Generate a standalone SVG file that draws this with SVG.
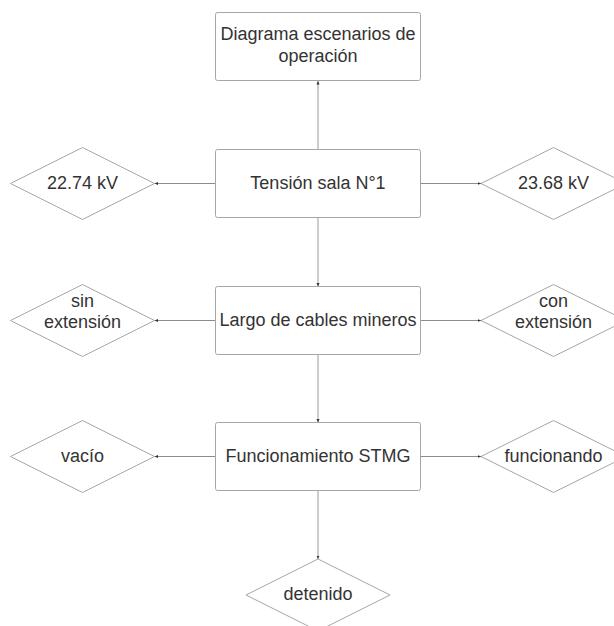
<svg xmlns="http://www.w3.org/2000/svg" width="614" height="626" viewBox="0 0 614 626">
  <style>
    .box { fill: #ffffff; stroke: #a6a6a6; stroke-width: 1; }
    .dia { fill: #ffffff; stroke: #a6a6a6; stroke-width: 1; }
    .lbl { font-family: "Liberation Sans", Arial, sans-serif; font-size: 18px; fill: #333333; text-anchor: middle; }
    .conn { fill: none; stroke: #8c8c8c; stroke-width: 1; }
    .vconn { fill: none; stroke: #9a9a9a; stroke-width: 1; }
  </style>
  <defs>
    <marker id="tip" markerUnits="userSpaceOnUse" markerWidth="4" markerHeight="4" refX="3.5" refY="2" orient="auto">
      <path d="M0,0.5 L3.5,2 L0,3.5 z" fill="#333333"/>
    </marker>
  </defs>
  <rect width="614" height="626" fill="#ffffff"/>

  <!-- connectors -->
  <g id="connectors">
    <line class="vconn" x1="318" y1="149.5" x2="318" y2="81" marker-end="url(#tip)"/>
    <line class="conn" x1="215.5" y1="183.5" x2="154.5" y2="183.5" marker-end="url(#tip)"/>
    <line class="conn" x1="420.5" y1="183.5" x2="481" y2="183.5" marker-end="url(#tip)"/>
    <line class="vconn" x1="318" y1="217.5" x2="318" y2="286.5" marker-end="url(#tip)"/>
    <line class="conn" x1="215.5" y1="320.5" x2="154.5" y2="320.5" marker-end="url(#tip)"/>
    <line class="conn" x1="420.5" y1="320.5" x2="481" y2="320.5" marker-end="url(#tip)"/>
    <line class="vconn" x1="318" y1="354.5" x2="318" y2="422.5" marker-end="url(#tip)"/>
    <line class="conn" x1="215.5" y1="456.5" x2="154.5" y2="456.5" marker-end="url(#tip)"/>
    <line class="conn" x1="420.5" y1="456.5" x2="481" y2="456.5" marker-end="url(#tip)"/>
    <line class="vconn" x1="318" y1="490.5" x2="318" y2="559" marker-end="url(#tip)"/>
  </g>

  <!-- boxes -->
  <g id="diagrama">
    <rect class="box" x="215.5" y="12.5" width="205" height="68" rx="2"/>
    <text class="lbl" x="318" y="40">Diagrama escenarios de</text>
    <text class="lbl" x="318" y="61.5">operación</text>
  </g>
  <g id="tension">
    <rect class="box" x="215.5" y="149.5" width="205" height="68" rx="2"/>
    <text class="lbl" x="318" y="189">Tensión sala N°1</text>
  </g>
  <g id="largo">
    <rect class="box" x="215.5" y="286.5" width="205" height="68" rx="2"/>
    <text class="lbl" x="318" y="325.5">Largo de cables mineros</text>
  </g>
  <g id="funcionamiento">
    <rect class="box" x="215.5" y="422.5" width="205" height="68" rx="2"/>
    <text class="lbl" x="318" y="461.8">Funcionamiento STMG</text>
  </g>

  <!-- options -->
  <g id="v2274">
    <polygon class="dia" points="82.5,147.5 154.5,183.5 82.5,219.5 10.5,183.5"/>
    <text class="lbl" x="82.5" y="188.5">22.74 kV</text>
  </g>
  <g id="v2368">
    <polygon class="dia" points="553.5,147.5 626,183.5 553.5,219.5 481,183.5"/>
    <text class="lbl" x="553.5" y="188.5">23.68 kV</text>
  </g>
  <g id="sin-ext">
    <polygon class="dia" points="82.5,284.5 154.5,320.5 82.5,356.5 10.5,320.5"/>
    <text class="lbl" x="82.5" y="306.7">sin</text>
    <text class="lbl" x="82.5" y="328.3">extensión</text>
  </g>
  <g id="con-ext">
    <polygon class="dia" points="553.5,284.5 626,320.5 553.5,356.5 481,320.5"/>
    <text class="lbl" x="553.5" y="306.7">con</text>
    <text class="lbl" x="553.5" y="328.3">extensión</text>
  </g>
  <g id="vacio">
    <polygon class="dia" points="82.5,420.5 154.5,456.5 82.5,492.5 10.5,456.5"/>
    <text class="lbl" x="82.5" y="461.8">vacío</text>
  </g>
  <g id="funcionando">
    <polygon class="dia" points="553.5,420.5 626,456.5 553.5,492.5 481,456.5"/>
    <text class="lbl" x="553.5" y="461.8">funcionando</text>
  </g>
  <g id="detenido">
    <polygon class="dia" points="318,559 390,595 318,631 246,595"/>
    <text class="lbl" x="318" y="599.5">detenido</text>
  </g>
</svg>
